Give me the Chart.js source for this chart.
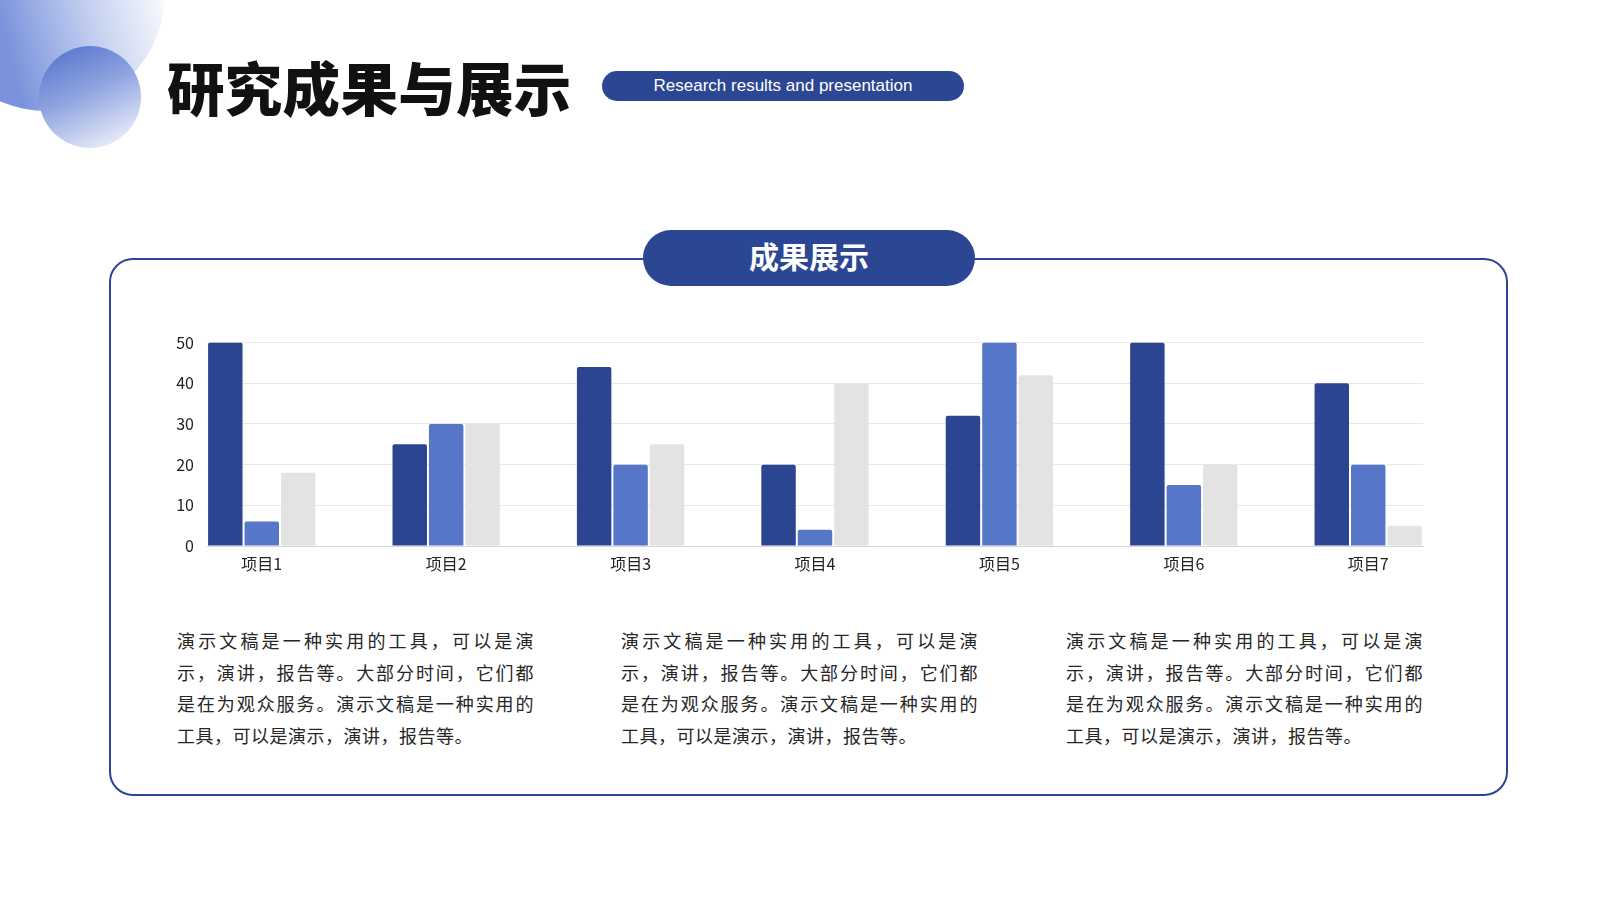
<!DOCTYPE html>
<html>
<head>
<meta charset="utf-8">
<script src="https://cdn.jsdelivr.net/npm/chart.js@4"></script>
<style>
  body { margin: 0; width: 1600px; height: 900px; background: #fff; overflow: hidden; position: relative; font-family: "Noto Sans CJK SC", "Noto Sans", sans-serif; }
  .abs { position: absolute; }
  .big-circle { left: -71px; top: -125px; width: 236px; height: 236px; border-radius: 50%;
    background: linear-gradient(75deg, #7b93dc 32%, #c3cff0 62%, #ffffff 92%); }
  .small-circle { left: 39px; top: 46px; width: 102px; height: 102px; border-radius: 50%;
    background: linear-gradient(155deg, #5674cc 5%, #8ea3e0 45%, #f3f5fc 95%); }
  .title { left: 167px; top: 55px; font-size: 57.5px; line-height: 62px; font-weight: 900; color: #111; letter-spacing: 0.3px; }
  .tag { left: 602px; top: 71px; width: 362px; height: 30px; border-radius: 15px; background: #2b4692;
    color: #fff; font-family: "Liberation Sans", Arial, sans-serif; font-size: 17px; line-height: 30px; text-align: center; }
  .frame { left: 109px; top: 258px; width: 1395px; height: 534px; border: 2.5px solid #2b4692; border-radius: 24px; }
  .pill { left: 643px; top: 230px; width: 332px; height: 56px; border-radius: 28px; background: #2b4692;
    color: #fff; font-size: 30px; font-weight: 700; line-height: 50px; text-align: center; }
  .para { top: 625px; width: 357px; font-size: 18px; color: #262626; }
  .para div { line-height: 31.7px; height: 31.7px; text-align: justify; text-align-last: justify; letter-spacing: 0.5px; white-space: nowrap; }
  .para div.last { text-align-last: left; }
  #wrap { left: 140px; top: 320px; width: 1300px; height: 260px; }
</style>
</head>
<body>
<div class="abs big-circle"></div>
<div class="abs small-circle"></div>
<div class="abs title">研究成果与展示</div>
<div class="abs tag">Research results and presentation</div>
<div class="abs frame"></div>
<div class="abs pill">成果展示</div>
<div class="abs" id="wrap"><canvas id="resultChart"></canvas></div>
<div class="abs para" style="left:177px"></div>
<div class="abs para" style="left:621px"></div>
<div class="abs para" style="left:1066px"></div>

<script>
const categories = ['项目1', '项目2', '项目3', '项目4', '项目5', '项目6', '项目7'];
const series1 = [50, 25, 44, 20, 32, 50, 40];
const series2 = [6, 30, 20, 4, 50, 15, 20];
const series3 = [18, 30, 25, 40, 42, 20, 5];
const yTicks = [0, 10, 20, 30, 40, 50];
const paraLines = [
    '演示文稿是一种实用的工具，可以是演',
    '示，演讲，报告等。大部分时间，它们都',
    '是在为观众服务。演示文稿是一种实用的',
    '工具，可以是演示，演讲，报告等。'
];

// text columns
document.querySelectorAll('.para').forEach(function (p) {
    paraLines.forEach(function (line, i) {
        const d = document.createElement('div');
        d.textContent = line;
        if (i === paraLines.length - 1) d.className = 'last';
        p.appendChild(d);
    });
});

function toPoints(values) {
    return values.map(function (v, i) { return { x: i, y: v }; });
}

const ctx = document.getElementById('resultChart').getContext('2d');
new Chart(ctx, {
    type: 'bar',
    data: {
        datasets: [
            { label: '系列1', data: toPoints(series1), backgroundColor: '#2c4590' },
            { label: '系列2', data: toPoints(series2), backgroundColor: '#5676c8' },
            { label: '系列3', data: toPoints(series3), backgroundColor: '#e3e3e3' }
        ]
    },
    options: {
        responsive: true,
        maintainAspectRatio: false,
        animation: false,
        categoryPercentage: 0.593,
        barPercentage: 0.945,
        borderRadius: 2,
        layout: { padding: { top: 3, right: 17, left: 0, bottom: 0 } },
        plugins: {
            legend: { display: false },
            tooltip: { enabled: false }
        },
        scales: {
            x: {
                type: 'linear',
                offset: false,
                min: -0.297,
                max: categories.length - 1 + 0.297,
                afterBuildTicks: function (scale) {
                    scale.ticks = categories.map(function (c, i) { return { value: i }; });
                },
                afterFit: function (scale) { scale.height = 34; },
                grid: { display: false, drawTicks: false, offset: false },
                border: { display: true, color: '#d6d6d6', width: 1 },
                ticks: {
                    padding: 8,
                    color: '#222',
                    font: { family: 'Noto Sans CJK SC', size: 16 },
                    callback: function (v) { return categories[v]; }
                }
            },
            y: {
                min: 0,
                max: 50,
                afterBuildTicks: function (scale) {
                    scale.ticks = yTicks.map(function (v) { return { value: v }; });
                },
                afterFit: function (scale) { scale.width = 67; },
                grid: { color: '#e8e8e8', lineWidth: 1, drawTicks: false },
                border: { display: false },
                ticks: {
                    padding: 13,
                    color: '#222',
                    font: { family: 'Noto Sans CJK SC', size: 16 }
                }
            }
        }
    }
});
</script>
</body>
</html>
